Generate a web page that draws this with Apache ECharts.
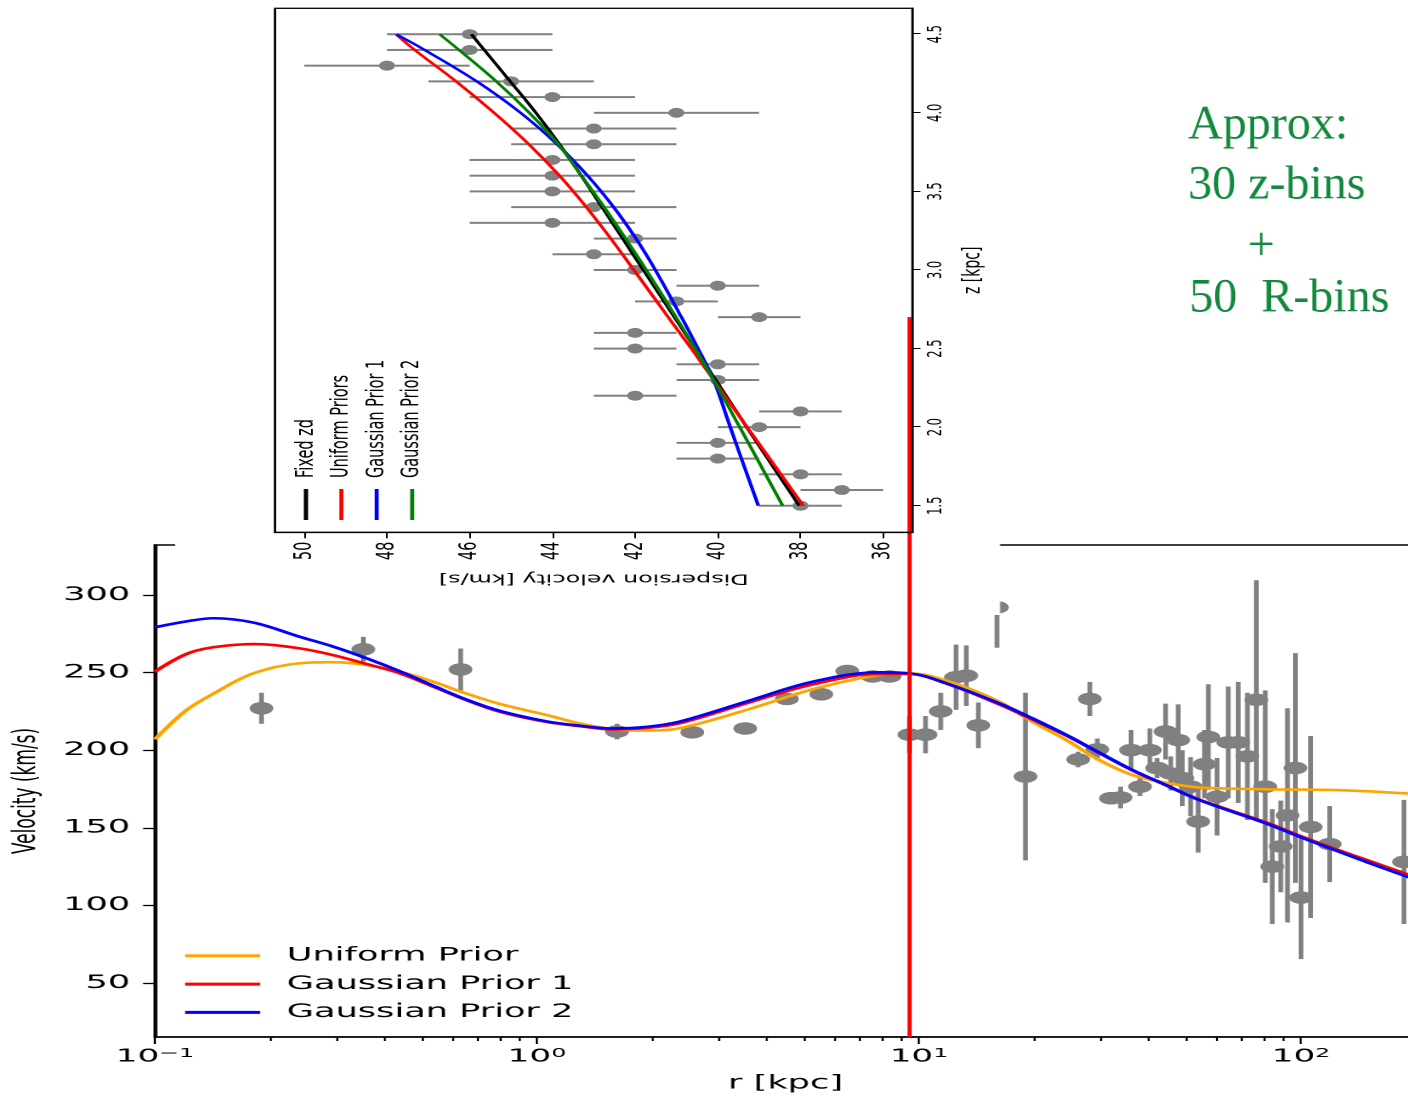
<!DOCTYPE html>
<html>
<head>
<meta charset="utf-8">
<title>Rotation curve and vertical dispersion profile</title>
<script src="https://cdn.jsdelivr.net/npm/echarts@6/dist/echarts.min.js"></script>
<style>
  html, body { margin: 0; padding: 0; background: #fff; overflow: hidden; }
  #stage { position: relative; width: 1408px; height: 1097px; overflow: hidden; background: #fff; }
  /* main panel is laid out narrow and stretched horizontally */
  #main { position: absolute; left: 0; top: 0; width: 741px; height: 1097px;
          transform-origin: 0 0; transform: scaleX(1.90013); }
  /* inset panel is drawn upright, then turned a quarter turn and widened */
  #inset { position: absolute; left: 175px; top: 0; width: 615px; height: 485px;
           transform-origin: 0 0; transform: translate(0, 615px) scaleX(1.701) rotate(-90deg); }
</style>
</head>
<body>
<div id="stage">
  <div id="main"></div>
  <div id="inset"></div>
</div>
<script>
// ---------------- main panel: circular velocity vs radius ----------------
const rMajorTicks = [0.1, 1, 10, 100];
const rMinorTicks = [0.2, 0.3, 0.4, 0.5, 0.6, 0.7, 0.8, 0.9,
                     2, 3, 4, 5, 6, 7, 8, 9,
                     20, 30, 40, 50, 60, 70, 80, 90];
const vTicks = [50, 100, 150, 200, 250, 300];

// binned observations (r in kpc, v and its error in km/s)
const rObs = [0.190, 0.351, 0.631, 1.62, 2.55, 3.51, 4.51, 5.55, 6.49, 7.57,
              8.37, 9.44, 10.4, 11.4, 12.5, 13.3, 14.3, 16.0, 19.0, 28.0,
              26.1, 29.3, 31.8, 33.7, 35.9, 37.9, 40.2, 42.0, 44.2, 45.6,
              47.7, 48.9, 51.4, 53.8, 55.9, 57.2, 60.3, 64.5, 68.5, 72.4,
              76.4, 80.6, 92.2, 96.7, 106, 88.5, 84.1, 100, 118.9, 186];
const vObs = [227, 265, 252, 212, 211.5, 214, 233, 236, 251, 247.5,
              247.5, 210, 210, 225, 247, 248, 216, 292, 183, 233,
              194, 200.5, 169, 169.5, 200, 176.5, 200, 188.5, 212, 185,
              206.5, 182, 176.5, 154, 191, 208.5, 170, 205, 205, 196,
              232.5, 176.5, 158, 188.5, 150.5, 138, 125, 105, 139.5, 128];
const vErr = [10, 8, 13.5, 5, 2, 2, 2, 2, 2, 2,
              2, 12, 12, 12, 21, 19.5, 14.7, 26, 54, 11,
              5, 7, 4, 7, 13, 6, 14, 6.5, 18, 11,
              23, 18, 19, 20, 22, 34, 25, 36, 39, 41,
              77, 62, 69, 74, 58.6, 29.5, 37, 39.6, 24.5, 40];

// fitted rotation curves
const rModel = [0.1, 0.121, 0.142, 0.181, 0.239, 0.292, 0.358, 0.438, 0.535, 0.653,
                0.799, 1.058, 1.29, 1.58, 1.93, 2.36, 3.53, 5.27, 7.87, 9.44,
                11.78, 16.2, 19.8, 24.3, 29.6, 36.2, 44.3, 54.1, 80.9, 98.9,
                120.8, 147.6, 200];
const vUniform = [207, 225.9, 236.3, 249.5, 256, 256.7, 254.9, 250.6, 244.1, 236.5,
                  229.8, 222.7, 217.3, 213.6, 212.6, 214.1, 225.9, 239.2, 248.5, 249.5,
                  244.8, 231.3, 218.4, 206.6, 193.7, 184, 179, 176, 174.8, 174.6,
                  174.4, 173.6, 171.8];
const vGauss1 = [250.6, 262, 266.3, 268.4, 265.6, 261.3, 255.5, 249.5, 241, 232.3,
                 224.8, 218.2, 215.5, 213.4, 214.3, 217.3, 230.2, 242.4, 249.1, 249.1,
                 243, 229.6, 219.8, 209.5, 198.3, 187, 177.5, 168.2, 153.5, 145,
                 137, 129.5, 118];
const vGauss2 = [279.2, 283, 285, 282.2, 273.1, 266.8, 259.2, 250.8, 241.5, 232.6,
                 225.3, 218.6, 215.8, 214, 215, 218.4, 231.3, 244.1, 250.2, 249.5,
                 243.1, 230.2, 220.5, 209.8, 198.5, 187.2, 177.5, 167.9, 152.9, 144.3,
                 136.2, 128.2, 116.5];

// solar-radius marker
const sunR = 9.45;
const sunSpan = [15, 479];

// ---------------- inset: dispersion velocity vs height ----------------
const zTicks = [1.5, 2.0, 2.5, 3.0, 3.5, 4.0, 4.5];
const sigmaTicks = [36, 38, 40, 42, 44, 46, 48, 50];

const zObs = [1.5, 1.6, 1.7, 1.8, 1.9, 2.0, 2.1, 2.2, 2.3, 2.4, 2.5, 2.6, 2.7, 2.8, 2.9, 3.0,
              3.1, 3.2, 3.3, 3.4, 3.5, 3.6, 3.7, 3.8, 3.9, 4.0, 4.1, 4.2, 4.3, 4.4, 4.5];
const sigmaObs = [38, 37, 38, 40, 40, 39, 38, 42, 40, 40, 42, 42, 39, 41, 40, 42,
                  43, 42, 44, 43, 44, 44, 44, 43, 43, 41, 44, 45, 48, 46, 46];
const sigmaErr = [1, 1, 1, 1, 1, 1, 1, 1, 1, 1, 1, 1, 1, 1, 1, 1,
                  1, 1, 2, 2, 2, 2, 2, 2, 2, 2, 2, 2, 2, 2, 2];

const zModel = [1.5, 2.0, 2.3, 2.5, 2.7, 3.0, 3.2, 3.4, 3.6, 3.8, 4.0, 4.2, 4.4, 4.5];
const sigmaFixed  = [38.03, 39.3, 40.05, 40.55, 41.05, 41.8, 42.3, 42.8, 43.3, 43.83, 44.4, 45.02, 45.65, 45.96];
const sigmaUnif   = [37.93, 39.29, 40.1, 40.64, 41.2, 42.03, 42.59, 43.18, 43.83, 44.57, 45.41, 46.33, 47.33, 47.78];
const sigmaGauss1 = [39.02, 39.7, 40.1, 40.48, 40.88, 41.51, 41.98, 42.52, 43.15, 43.89, 44.77, 45.83, 47.09, 47.78];
const sigmaGauss2 = [38.43, 39.47, 40.1, 40.55, 41.01, 41.73, 42.23, 42.75, 43.3, 43.86, 44.56, 45.36, 46.26, 46.73];

// annotation lines
const noteLines = ['Approx:', '30 z-bins', '+', '50  R-bins'];

// ---------------- helpers ----------------
const FONT = 'DejaVu Sans';
const GRAY = '#808080';
const STRETCH = 1408 / 741;
const pairs = (xs, ys) => xs.map((x, i) => [x, ys[i]]);

function errorBars(lineWidth) {
  return function (params, api) {
    const x = api.value(0), y = api.value(1), e = api.value(2);
    const p1 = api.coord([x, y - e]);
    const p2 = api.coord([x, y + e]);
    return {
      type: 'line',
      shape: { x1: p1[0], y1: p1[1], x2: p2[0], y2: p2[1] },
      style: { stroke: GRAY, lineWidth: lineWidth }
    };
  };
}

function powLabel(v) {
  const e = Math.round(Math.log10(v));
  const ex = e < 0 ? '\u2212' + (-e) : String(e);
  return '{b|10}{s|' + ex + '}';
}

function noteText(text, x, y, align) {
  return {
    type: 'text', x: x, y: y, scaleX: 1 / STRETCH, z: 70, silent: true,
    style: {
      text: text, fill: '#12893d',
      font: '48px "Liberation Serif", "DejaVu Serif", serif',
      fontSize: 48, fontFamily: '"Liberation Serif", "DejaVu Serif", serif',
      textAlign: align, align: align,
      textVerticalAlign: 'middle', verticalAlign: 'middle'
    }
  };
}

// ---------------- main chart ----------------
const mainChart = echarts.init(document.getElementById('main'), null,
  { renderer: 'canvas', devicePixelRatio: 2 });

mainChart.setOption({
  animation: false,
  backgroundColor: '#fff',
  grid: {
    left: 81.57, right: -4.2, top: 545, bottom: 60,
    containLabel: false, outerBoundsMode: 'none',
    show: true, borderColor: '#000', borderWidth: 1.6, backgroundColor: 'transparent'
  },
  xAxis: [
    {
      type: 'log', logBase: 10, min: 0.1, max: 200, gridIndex: 0, position: 'bottom',
      name: 'r [kpc]', nameLocation: 'middle', nameGap: 37,
      nameTextStyle: { fontFamily: FONT, fontSize: 18.5, color: '#000' },
      axisLine: { show: true, onZero: false, lineStyle: { color: '#000', width: 1.6 } },
      axisTick: { show: true, customValues: rMajorTicks, length: 7,
                  lineStyle: { color: '#000', width: 1.1 } },
      axisLabel: {
        show: true, customValues: rMajorTicks, margin: 10, formatter: powLabel,
        rich: {
          b: { fontFamily: FONT, fontSize: 18, color: '#000', lineHeight: 20 },
          s: { fontFamily: FONT, fontSize: 12.5, color: '#000', lineHeight: 13, verticalAlign: 'top' }
        }
      },
      splitLine: { show: false }
    },
    {
      type: 'log', logBase: 10, min: 0.1, max: 200, gridIndex: 0, position: 'bottom',
      axisLine: { show: false, onZero: false },
      axisTick: { show: true, customValues: rMinorTicks, length: 4,
                  lineStyle: { color: '#000', width: 1.1 } },
      axisLabel: { show: false },
      splitLine: { show: false }
    }
  ],
  yAxis: {
    type: 'value', min: 15.2, max: 332.2,
    name: 'Velocity (km/s)', nameLocation: 'middle', nameRotate: 90, nameGap: 57,
    nameTextStyle: { fontFamily: FONT, fontSize: 17, color: '#000' },
    axisLine: { show: true, onZero: false, lineStyle: { color: '#000', width: 1.6 } },
    axisTick: { show: true, customValues: vTicks, length: 6.3,
                lineStyle: { color: '#000', width: 1.3 } },
    axisLabel: { show: true, customValues: vTicks, margin: 13,
                 fontFamily: FONT, fontSize: 18.5, color: '#000' },
    splitLine: { show: false }
  },
  legend: {
    orient: 'vertical', left: 97.4, top: 946.3, padding: 0,
    icon: 'rect', itemWidth: 39.5, itemHeight: 3, itemGap: 9.3,
    selectedMode: false,
    data: ['Uniform Prior', 'Gaussian Prior 1', 'Gaussian Prior 2'],
    textStyle: { fontFamily: FONT, fontSize: 18.5, color: '#000', lineHeight: 18, padding: [0, 0, 0, 9] }
  },
  graphic: {
    elements: [
      { type: 'rect', shape: { x: 92.1, y: 0, width: 434.2, height: 615 },
        style: { fill: '#fff' }, z: 50, silent: true },
      noteText(noteLines[0], 625.3, 126, 'left'),
      noteText(noteLines[1], 625.3, 186, 'left'),
      noteText(noteLines[2], 663.7, 247, 'center'),
      noteText(noteLines[3], 625.9, 299, 'left')
    ]
  },
  series: [
    {
      type: 'custom', name: 'errors', xAxisIndex: 0, yAxisIndex: 0, silent: true,
      data: rObs.map((r, i) => [r, vObs[i], vErr[i]]),
      encode: { x: 0, y: 1 },
      renderItem: errorBars(2.5), z: 3
    },
    {
      type: 'scatter', name: 'binned data', xAxisIndex: 0, yAxisIndex: 0, silent: true,
      data: pairs(rObs, vObs), symbol: 'circle', symbolSize: 12.5,
      itemStyle: { color: GRAY, opacity: 1 }, z: 3
    },
    {
      type: 'line', name: 'Uniform Prior', xAxisIndex: 0, yAxisIndex: 0,
      data: pairs(rModel, vUniform), smooth: 0.35, symbol: 'none',
      lineStyle: { color: '#FFA500', width: 2.6 }, itemStyle: { color: '#FFA500' }, z: 4
    },
    {
      type: 'line', name: 'Gaussian Prior 1', xAxisIndex: 0, yAxisIndex: 0,
      data: pairs(rModel, vGauss1), smooth: 0.35, symbol: 'none',
      lineStyle: { color: '#FF0000', width: 2.6 }, itemStyle: { color: '#FF0000' }, z: 4
    },
    {
      type: 'line', name: 'Gaussian Prior 2', xAxisIndex: 0, yAxisIndex: 0,
      data: pairs(rModel, vGauss2), smooth: 0.35, symbol: 'none',
      lineStyle: { color: '#0000FF', width: 2.6 }, itemStyle: { color: '#0000FF' }, z: 4
    },
    {
      type: 'line', name: 'sun', xAxisIndex: 0, yAxisIndex: 0, silent: true,
      data: [[sunR, sunSpan[0]], [sunR, sunSpan[1]]], clip: false, symbol: 'none',
      lineStyle: { color: '#FF0000', width: 2.2 }, z: 60
    }
  ]
});

// ---------------- inset chart ----------------
const insetChart = echarts.init(document.getElementById('inset'), null,
  { renderer: 'canvas', devicePixelRatio: 2 });

const insetLine = (name, ys, color) => ({
  type: 'line', name: name, data: pairs(zModel, ys), smooth: 0.4, symbol: 'none',
  lineStyle: { color: color, width: 2.1 }, itemStyle: { color: color }, z: 5
});

insetChart.setOption({
  animation: false,
  backgroundColor: 'transparent',
  grid: {
    left: 82.7, right: 8.3, top: 58.8, bottom: 51.4,
    containLabel: false, outerBoundsMode: 'none',
    show: true, borderColor: '#000', borderWidth: 1.3, backgroundColor: 'transparent'
  },
  xAxis: {
    type: 'value', min: 1.331, max: 4.665,
    name: 'z [kpc]', nameLocation: 'middle', nameGap: 29,
    nameTextStyle: { fontFamily: FONT, fontSize: 14, color: '#000' },
    axisLine: { show: true, onZero: false, lineStyle: { color: '#000', width: 1.3 } },
    axisTick: { show: true, customValues: zTicks, length: 4.7, lineStyle: { color: '#000', width: 1 } },
    axisLabel: { show: true, customValues: zTicks, margin: 8, fontFamily: FONT, fontSize: 11.5,
                 color: '#000', formatter: v => v.toFixed(1) },
    splitLine: { show: false }
  },
  yAxis: {
    type: 'value', min: 35.29, max: 50.71,
    name: 'Dispersion velocity [km/s]', nameLocation: 'middle', nameRotate: 90, nameGap: 32,
    nameTextStyle: { fontFamily: FONT, fontSize: 14, color: '#000' },
    axisLine: { show: true, onZero: false, lineStyle: { color: '#000', width: 1.3 } },
    axisTick: { show: true, customValues: sigmaTicks, length: 6, lineStyle: { color: '#000', width: 1 } },
    axisLabel: { show: true, customValues: sigmaTicks, margin: 9.4, fontFamily: FONT, fontSize: 14.5,
                 color: '#000' },
    splitLine: { show: false }
  },
  legend: {
    orient: 'vertical', left: 95, top: 69.5, padding: 0,
    icon: 'rect', itemWidth: 31, itemHeight: 2.4, itemGap: 5.8,
    selectedMode: false,
    data: ['Fixed zd', 'Uniform Priors', 'Gaussian Prior 1', 'Gaussian Prior 2'],
    textStyle: { fontFamily: FONT, fontSize: 14.5, color: '#000', lineHeight: 14, padding: [0, 0, 0, 6] }
  },
  series: [
    {
      type: 'custom', name: 'errors', silent: true,
      data: zObs.map((z, i) => [z, sigmaObs[i], sigmaErr[i]]),
      encode: { x: 0, y: 1 },
      renderItem: errorBars(2), z: 2
    },
    {
      type: 'scatter', name: 'bins', silent: true,
      data: pairs(zObs, sigmaObs), symbol: 'circle', symbolSize: [10, 9.5],
      itemStyle: { color: GRAY, opacity: 1 }, z: 3
    },
    insetLine('Fixed zd', sigmaFixed, '#000000'),
    insetLine('Uniform Priors', sigmaUnif, '#FF0000'),
    insetLine('Gaussian Prior 1', sigmaGauss1, '#0000FF'),
    insetLine('Gaussian Prior 2', sigmaGauss2, '#008000')
  ]
});
</script>
</body>
</html>
